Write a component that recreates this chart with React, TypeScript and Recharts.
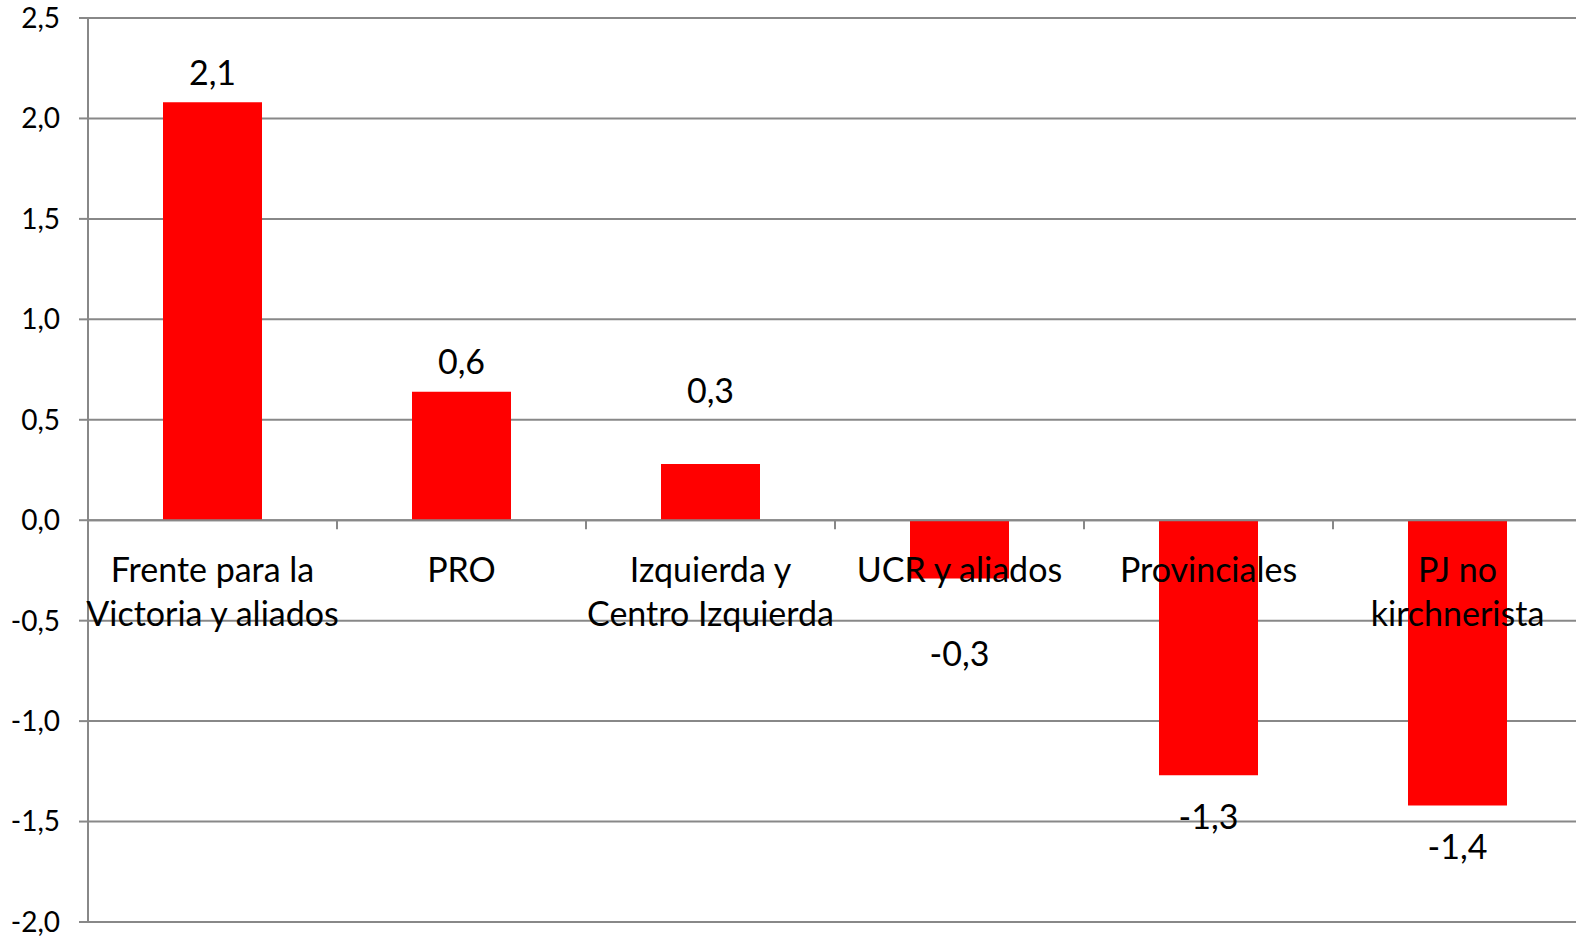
import { BarChart, Bar, XAxis, YAxis, CartesianGrid, ReferenceLine, LabelList } from 'recharts'

const categories = [
  'Frente para la\nVictoria y aliados',
  'PRO',
  'Izquierda y\nCentro Izquierda',
  'UCR y aliados',
  'Provinciales',
  'PJ no\nkirchnerista',
]
const values = [2.08, 0.64, 0.28, -0.29, -1.27, -1.42]
const yTicks = [-2, -1.5, -1, -0.5, 0, 0.5, 1, 1.5, 2, 2.5]

const W = 1576
const H = 939
// plot area runs a little past the right edge, as in the original
const MARGIN = { top: 18, right: -6, bottom: 16, left: 0 }
const Y_AXIS_W = 88
const X_AXIS_H = 1
const FONT = 'Lato, "Open Sans", sans-serif'

const plotTop = MARGIN.top
const plotH = H - MARGIN.top - MARGIN.bottom - X_AXIS_H
const plotW = W - MARGIN.left - MARGIN.right - Y_AXIS_W
const zeroY = plotTop + (plotH * 2.5) / 4.5
const band = plotW / categories.length

const fmt = (v: number) => v.toFixed(1).replace('.', ',')

const data = categories.map((name, i) => ({ name, value: values[i] }))

function CategoryTick(props: any) {
  const { x, payload, index } = props
  const lines = String(payload.value).split('\n')
  return (
    <g>
      {index < categories.length - 1 && (
        <line x1={x + band / 2} x2={x + band / 2} y1={zeroY} y2={zeroY + 9} stroke="#888" strokeWidth={2} />
      )}
      {lines.map((l, k) => (
        <text
          key={k}
          x={x}
          y={zeroY + 48 + k * 44}
          textAnchor="middle"
          fontSize={34}
          fontFamily={FONT}
          fill="#000"
          dominantBaseline="central"
        >
          {l}
        </text>
      ))}
    </g>
  )
}

function ValueLabel(props: any) {
  const { x, y, width, height, value } = props
  const v = Number(value)
  const top = Math.min(y, y + height)
  const bottom = Math.max(y, y + height)
  const small = Math.abs(v) < 0.5
  const cy = v >= 0 ? top - 31 - (small ? 43 : 0) : bottom + 40 + (small ? 34 : 0)
  return (
    <text
      x={x + width / 2}
      y={cy}
      textAnchor="middle"
      dominantBaseline="central"
      fontSize={34}
      fontFamily={FONT}
      fill="#000"
    >
      {fmt(v)}
    </text>
  )
}

export default function App() {
  return (
    <div style={{ position: 'absolute', left: 0, top: 0, background: '#fff', width: W, height: H, overflow: 'hidden' }}>
      <BarChart width={W} height={H} data={data} margin={MARGIN}>
        <CartesianGrid vertical={false} stroke="#888" strokeWidth={2} />
        <YAxis
          width={Y_AXIS_W}
          domain={[-2, 2.5]}
          ticks={yTicks}
          interval={0}
          tickFormatter={fmt}
          tick={{ fontSize: 28, fill: '#000', fontFamily: FONT }}
          axisLine={{ stroke: '#888', strokeWidth: 2 }}
          tickLine={{ stroke: '#888', strokeWidth: 2 }}
          tickSize={9}
          tickMargin={19}
        />
        <Bar dataKey="value" fill="#FF0000" barSize={99} isAnimationActive={false}>
          <LabelList dataKey="value" content={ValueLabel} />
        </Bar>
        <ReferenceLine y={0} stroke="#888" strokeWidth={2} />
        <XAxis dataKey="name" height={X_AXIS_H} axisLine={false} tickLine={false} interval={0} tick={CategoryTick} />
      </BarChart>
    </div>
  )
}
